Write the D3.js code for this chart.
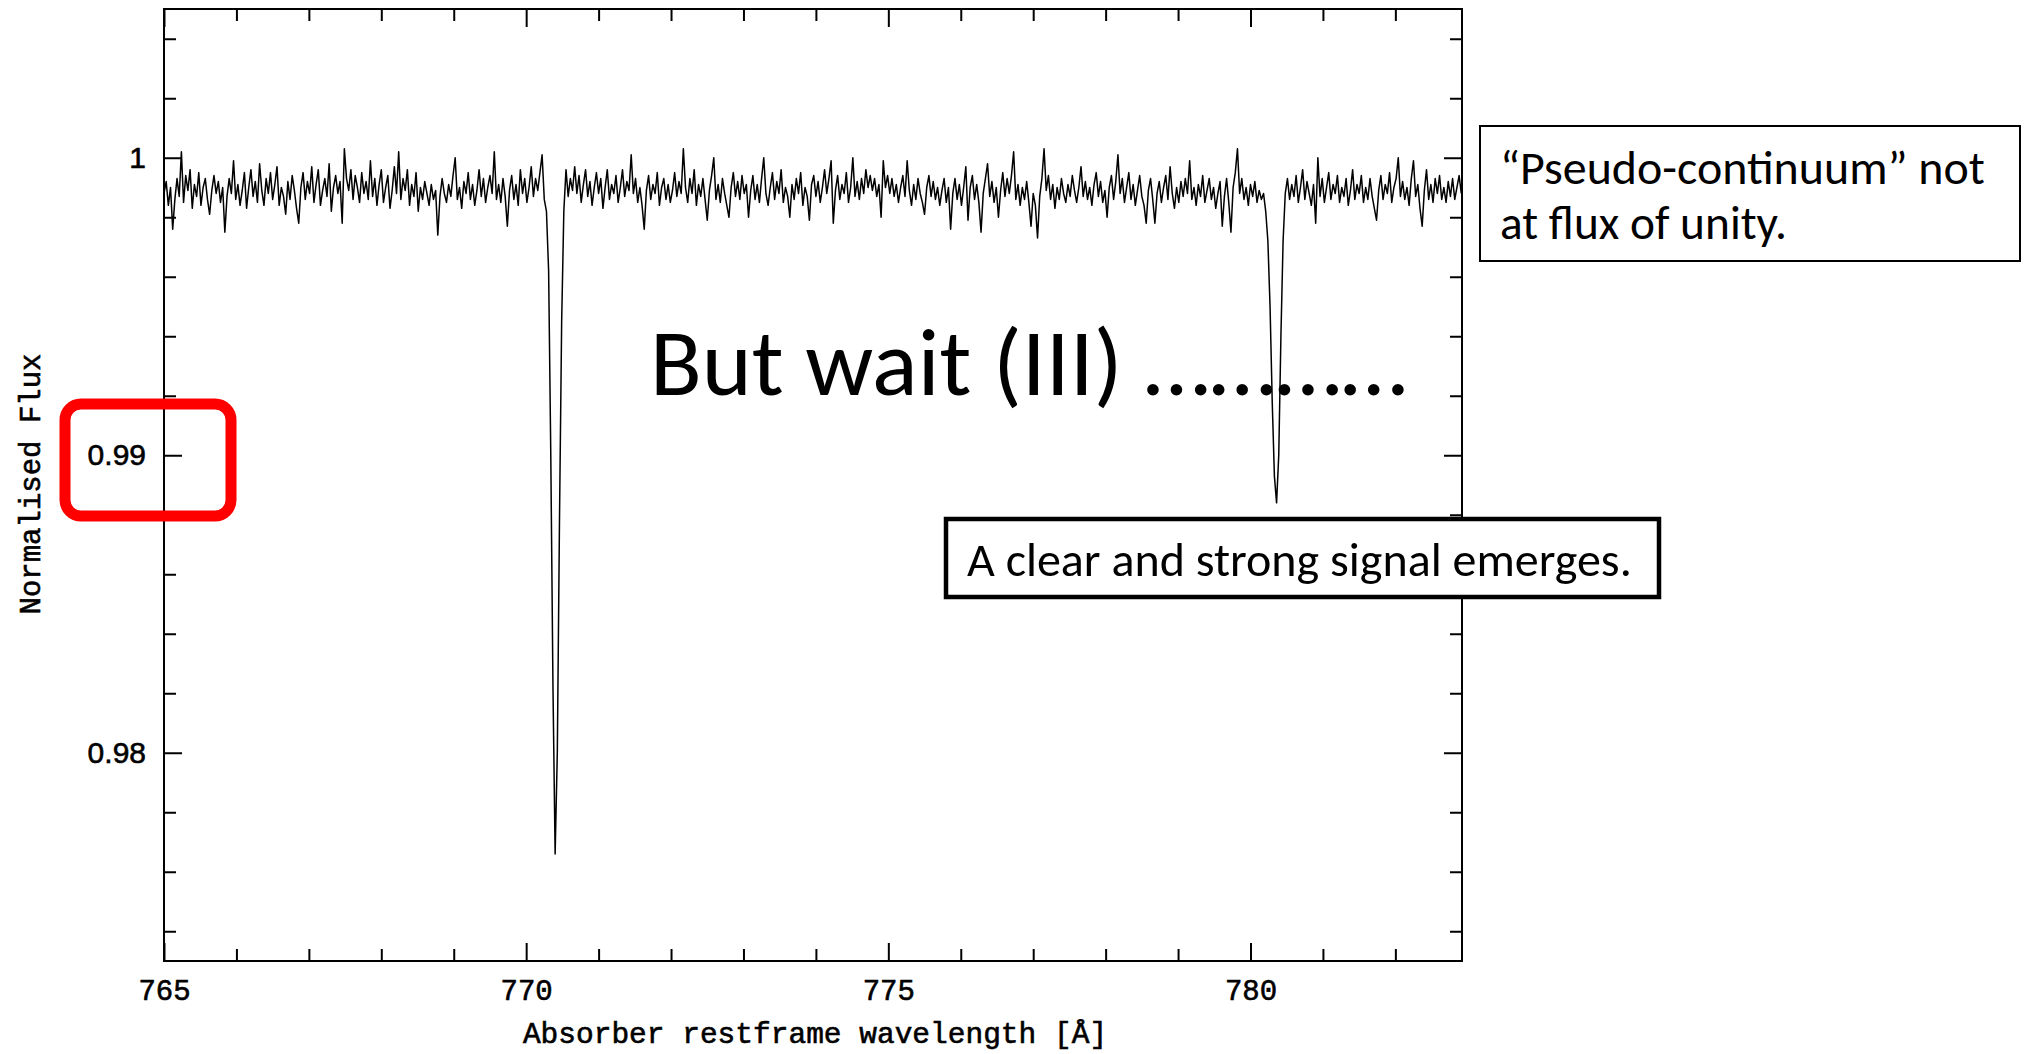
<!DOCTYPE html>
<html><head><meta charset="utf-8">
<script src="https://cdn.jsdelivr.net/npm/d3@7"></script>
<style>html,body{margin:0;padding:0;background:#fff;} svg{display:block;}</style>
</head><body>
<svg id="chart" width="2028" height="1054"></svg>
<script>
// ---------------- data ----------------
const wavelengthStart = 765.0;   // Å, first pixel of the spectrum
const wavelengthStep = 0.03;     // Å per pixel (linear dispersion)
const flux = [
0.9988,0.9992,0.9984,0.9990,0.9976,0.9986,0.9993,0.9987,1.0002,0.9985,
0.9994,0.9989,0.9996,0.9983,0.9991,0.9987,0.9995,0.9984,0.9990,0.9993,
0.9986,0.9981,0.9989,0.9994,0.9988,0.9992,0.9985,0.9990,0.9975,0.9987,
0.9993,0.9988,0.9999,0.9986,0.9991,0.9984,0.9989,0.9995,0.9983,0.9990,
0.9996,0.9987,0.9992,0.9985,0.9998,0.9989,0.9984,0.9993,0.9988,0.9995,
0.9986,0.9991,0.9997,0.9984,0.9990,0.9987,0.9981,0.9992,0.9986,0.9994,
0.9989,0.9983,0.9978,0.9990,0.9995,0.9986,0.9992,0.9988,0.9997,0.9985,
0.9991,0.9996,0.9984,0.9989,0.9993,0.9987,0.9998,0.9982,0.9990,0.9994,
0.9988,0.9992,0.9978,1.0003,0.9993,0.9989,0.9996,0.9986,0.9994,0.9990,
0.9985,0.9995,0.9988,0.9992,0.9986,0.9999,0.9987,0.9993,0.9984,0.9991,
0.9996,0.9985,0.9990,0.9994,0.9983,0.9989,0.9997,0.9988,1.0002,0.9986,
0.9993,0.9989,0.9996,0.9984,0.9991,0.9987,0.9995,0.9982,0.9990,0.9986,
0.9992,0.9988,0.9984,0.9991,0.9986,0.9989,0.9974,0.9987,0.9993,0.9988,
0.9985,0.9991,0.9987,0.9994,1.0000,0.9986,0.9990,0.9983,0.9992,0.9988,
0.9995,0.9986,0.9991,0.9984,0.9989,0.9996,0.9987,0.9993,0.9985,0.9990,
0.9994,0.9988,1.0002,0.9986,0.9991,0.9985,0.9993,0.9987,0.9977,0.9989,
0.9994,0.9986,0.9991,0.9984,0.9996,0.9988,0.9993,0.9985,0.9990,0.9997,
0.9987,0.9993,0.9989,0.9995,1.0001,0.9986,0.9982,0.9962,0.9900,0.9822,
0.9766,0.9800,0.9878,0.9945,0.9982,0.9996,0.9987,0.9993,0.9989,0.9997,
0.9988,0.9994,0.9985,0.9991,0.9996,0.9987,0.9992,0.9984,0.9990,0.9995,
0.9988,0.9993,0.9983,0.9990,0.9996,0.9986,0.9991,0.9988,0.9994,0.9985,
0.9990,0.9996,0.9987,0.9992,0.9989,1.0001,0.9988,0.9993,0.9985,0.9990,
0.9984,0.9976,0.9989,0.9994,0.9986,0.9991,0.9988,0.9995,0.9984,0.9990,
0.9993,0.9986,0.9991,0.9985,0.9989,0.9995,0.9987,0.9992,0.9988,1.0003,
0.9990,0.9985,0.9993,0.9988,0.9996,0.9984,0.9991,0.9987,0.9993,0.9986,
0.9979,0.9989,0.9994,1.0000,0.9986,0.9991,0.9985,0.9993,0.9988,0.9984,
0.9980,0.9990,0.9995,0.9987,0.9992,0.9986,0.9994,0.9988,0.9991,0.9980,
0.9989,0.9994,0.9986,0.9991,0.9985,0.9993,1.0000,0.9988,0.9984,0.9990,
0.9995,0.9986,0.9992,0.9988,0.9996,0.9985,0.9990,0.9987,0.9980,0.9991,
0.9986,0.9993,0.9988,0.9995,0.9984,0.9990,0.9987,0.9979,0.9991,0.9994,
0.9987,0.9992,0.9985,0.9990,0.9996,0.9988,0.9993,0.9999,0.9978,0.9989,
0.9994,0.9986,0.9991,0.9988,0.9995,0.9985,0.9990,1.0000,0.9987,0.9992,
0.9986,0.9993,0.9988,0.9996,0.9990,0.9994,0.9989,0.9993,0.9987,0.9991,
0.9980,0.9999,0.9990,0.9994,0.9988,0.9993,0.9987,0.9991,0.9985,0.9990,
0.9994,0.9987,0.9999,0.9989,0.9984,0.9991,0.9986,0.9993,0.9988,0.9985,
0.9981,0.9990,0.9994,0.9987,0.9992,0.9986,0.9990,0.9984,0.9989,0.9993,
0.9985,0.9990,0.9976,0.9988,0.9993,0.9986,0.9991,0.9984,0.9990,0.9997,
0.9979,0.9990,0.9994,0.9986,0.9991,0.9985,0.9975,0.9988,0.9993,0.9998,
0.9987,0.9992,0.9985,0.9990,0.9980,0.9989,0.9995,0.9987,0.9993,0.9988,
0.9994,1.0002,0.9986,0.9991,0.9984,0.9990,0.9986,0.9992,0.9985,0.9977,
0.9988,0.9984,0.9973,0.9987,0.9993,1.0003,0.9989,0.9994,0.9986,0.9991,
0.9983,0.9990,0.9986,0.9993,0.9988,0.9985,0.9991,0.9987,0.9994,0.9989,
0.9985,0.9990,0.9997,0.9987,0.9992,0.9986,0.9990,0.9984,0.9991,0.9995,
0.9987,0.9992,0.9985,0.9989,0.9980,0.9990,0.9994,0.9986,0.9992,1.0001,
0.9988,0.9993,0.9985,0.9990,0.9995,0.9986,0.9991,0.9984,0.9989,0.9994,
0.9987,0.9984,0.9978,0.9989,0.9993,0.9986,0.9978,0.9988,0.9992,0.9985,
0.9990,0.9994,0.9986,0.9997,0.9988,0.9983,0.9990,0.9985,0.9992,0.9987,
0.9993,0.9988,0.9999,0.9986,0.9990,0.9984,0.9991,0.9987,0.9994,0.9985,
0.9989,0.9993,0.9986,0.9990,0.9983,0.9988,0.9992,0.9977,0.9987,0.9993,
0.9985,0.9975,0.9990,0.9995,1.0003,0.9988,0.9993,0.9986,0.9990,0.9984,
0.9991,0.9987,0.9992,0.9985,0.9989,0.9986,0.9988,0.9982,0.9972,0.9950,
0.9918,0.9893,0.9884,0.9900,0.9940,0.9972,0.9988,0.9993,0.9986,0.9991,
0.9987,0.9994,0.9985,0.9990,0.9996,0.9986,0.9992,0.9988,0.9984,0.9991,
0.9978,1.0000,0.9987,0.9993,0.9985,0.9990,0.9995,0.9986,0.9991,0.9988,
0.9994,0.9985,0.9990,0.9987,0.9993,0.9984,0.9989,0.9996,0.9986,0.9991,
0.9988,0.9994,0.9985,0.9990,0.9986,0.9993,0.9987,0.9983,0.9979,0.9989,
0.9994,0.9986,0.9991,0.9988,0.9995,0.9985,0.9990,0.9993,1.0000,0.9987,
0.9992,0.9986,0.9990,0.9984,0.9993,0.9999,0.9987,0.9991,0.9983,0.9977,
0.9989,0.9996,0.9986,0.9991,0.9985,0.9993,0.9988,0.9994,0.9986,0.9990,
0.9985,0.9992,0.9987,0.9993,0.9986,0.9990,0.9994,0.9988
];
const xDomain = [765, 782.92];
const yDomain = [0.973, 1.005];
const xMajorTicks = [765, 770, 775, 780];
const xTickLabels = ["765", "770", "775", "780"];
const yMajorTicks = [0.98, 0.99, 1.0];
const yTickLabels = ["0.98", "0.99", "1"];
const xAxisTitle = "Absorber restframe wavelength [Å]";
const yAxisTitle = "Normalised Flux";
const headline = "But wait (III) …………";
const notePseudo = ["“Pseudo-continuum” not", "at flux of unity."];
const noteSignal = "A clear and strong signal emerges.";

// ---------------- drawing ----------------
const svg = d3.select("#chart");
svg.append("rect").attr("width", 2028).attr("height", 1054).attr("fill", "#fff");

const L = 164, R = 1462, T = 9, B = 961;
const x = d3.scaleLinear().domain(xDomain).range([L, R]);
const y = d3.scaleLinear().domain(yDomain).range([B, T]);

const xMinor = d3.range(766, 783, 1).filter(v => !xMajorTicks.includes(v));
const yMinor = d3.range(974, 1005, 2).map(v => v / 1000)
  .filter(v => !yMajorTicks.some(m => Math.abs(m - v) < 1e-9));

const monoFont = "'Liberation Mono', 'DejaVu Sans Mono', monospace";
const sansFont = "'Liberation Sans', Arial, sans-serif";
const slideFont = "Carlito, Calibri, Lato, 'Open Sans', sans-serif";

function styleAxis(g) {
  g.select(".domain").remove();
  g.selectAll("line").attr("stroke", "#000").attr("stroke-width", 2);
}
function heavy(sel) {
  sel.attr("fill", "#000").attr("stroke", "#000").attr("stroke-width", 0.6);
}

// frame
svg.append("rect").attr("x", L).attr("y", T).attr("width", R - L).attr("height", B - T)
  .attr("fill", "none").attr("stroke", "#000").attr("stroke-width", 2);

// bottom axis
svg.append("g").attr("transform", `translate(0,${B})`)
  .call(d3.axisBottom(x).tickValues(xMinor).tickSize(-12).tickFormat("")).call(styleAxis);
const gxb = svg.append("g").attr("transform", `translate(0,${B})`)
  .call(d3.axisBottom(x).tickValues(xMajorTicks).tickSize(-18).tickPadding(18)
    .tickFormat((d, i) => xTickLabels[i])).call(styleAxis);
gxb.selectAll("text").attr("font-family", monoFont).attr("font-size", 29).call(heavy);

// top axis
svg.append("g").attr("transform", `translate(0,${T})`)
  .call(d3.axisTop(x).tickValues(xMinor).tickSize(-12).tickFormat("")).call(styleAxis);
svg.append("g").attr("transform", `translate(0,${T})`)
  .call(d3.axisTop(x).tickValues(xMajorTicks).tickSize(-18).tickFormat("")).call(styleAxis);

// left axis
svg.append("g").attr("transform", `translate(${L},0)`)
  .call(d3.axisLeft(y).tickValues(yMinor).tickSize(-12).tickFormat("")).call(styleAxis);
const gyl = svg.append("g").attr("transform", `translate(${L},0)`)
  .call(d3.axisLeft(y).tickValues(yMajorTicks).tickSize(-18).tickPadding(18)
    .tickFormat((d, i) => yTickLabels[i])).call(styleAxis);
gyl.selectAll("text").attr("font-family", sansFont).attr("font-size", 30).call(heavy);

// right axis
svg.append("g").attr("transform", `translate(${R},0)`)
  .call(d3.axisRight(y).tickValues(yMinor).tickSize(-12).tickFormat("")).call(styleAxis);
svg.append("g").attr("transform", `translate(${R},0)`)
  .call(d3.axisRight(y).tickValues(yMajorTicks).tickSize(-18).tickFormat("")).call(styleAxis);

// axis titles
svg.append("text").attr("x", (L + R) / 2 + 2).attr("y", 1043).attr("text-anchor", "middle")
  .attr("font-family", monoFont).attr("font-size", 29.5).text(xAxisTitle).call(heavy);
svg.append("text").attr("transform", "translate(40,484) rotate(-90)").attr("text-anchor", "middle")
  .attr("font-family", monoFont).attr("font-size", 29).text(yAxisTitle).call(heavy);

// spectrum
const spectrum = flux.map((f, i) => ({ w: wavelengthStart + i * wavelengthStep, f }));
svg.append("path").datum(spectrum)
  .attr("d", d3.line().x(d => x(d.w)).y(d => y(d.f)))
  .attr("fill", "none").attr("stroke", "#000").attr("stroke-width", 1.5)
  .attr("stroke-linejoin", "round");

// helper: place text fitted to a target width by choosing the font size
function fittedText(str, xPos, yBase, targetWidth, baseSize) {
  const t = svg.append("text").attr("x", xPos).attr("y", yBase)
    .attr("font-family", slideFont).attr("font-size", baseSize).attr("fill", "#000").text(str);
  const w = t.node().getComputedTextLength();
  if (w > 0) t.attr("font-size", baseSize * targetWidth / w);
  return t;
}

// red highlight around 0.99 label
svg.append("rect").attr("x", 65).attr("y", 404).attr("width", 166).attr("height", 112)
  .attr("rx", 16).attr("ry", 16).attr("fill", "none").attr("stroke", "#ff0000").attr("stroke-width", 11);

// headline
fittedText(headline, 650, 395, 757, 90);

// note: pseudo continuum
svg.append("rect").attr("x", 1480).attr("y", 126).attr("width", 540).attr("height", 135)
  .attr("fill", "#fff").attr("stroke", "#000").attr("stroke-width", 2);
fittedText(notePseudo[0], 1500, 184, 485, 42);
fittedText(notePseudo[1], 1500, 239, 287, 42);

// note: signal
svg.append("rect").attr("x", 946).attr("y", 519).attr("width", 713).attr("height", 78)
  .attr("fill", "#fff").attr("stroke", "#000").attr("stroke-width", 4.5);
fittedText(noteSignal, 967, 576, 665, 46);
</script>
</body></html>
